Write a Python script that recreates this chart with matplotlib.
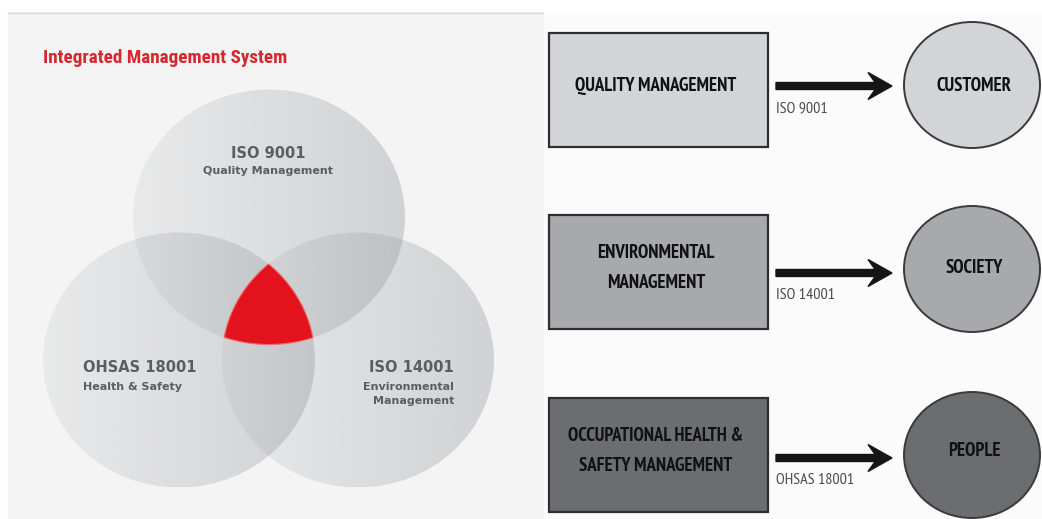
import numpy as np
import matplotlib
matplotlib.use("Agg")
import matplotlib.pyplot as plt
from matplotlib.patches import Ellipse, Rectangle, Polygon

# --- data -------------------------------------------------------------
title = "Integrated Management System"
venn_codes = ["ISO 9001", "OHSAS 18001", "ISO 14001"]
venn_names = ["Quality Management", "Health & Safety", "Environmental\nManagement"]

systems = ["QUALITY MANAGEMENT", "ENVIRONMENTAL\nMANAGEMENT",
           "OCCUPATIONAL HEALTH &\nSAFETY MANAGEMENT"]
standards = ["ISO 9001", "ISO 14001", "OHSAS 18001"]
stakeholders = ["CUSTOMER", "SOCIETY", "PEOPLE"]
shades = ["#d2d4d7", "#a8a9ac", "#6c6d70"]

NARROW = ["PT Sans Narrow", "Roboto Condensed", "DejaVu Sans"]
COND = ["Roboto Condensed", "Archivo Narrow", "DejaVu Sans"]

W, H = 1042, 519
fig = plt.figure(figsize=(W / 100, H / 100), dpi=100)
ax = fig.add_axes([0, 0, 1, 1])
ax.set_xlim(0, W)
ax.set_ylim(H, 0)
ax.axis("off")

# --- left panel: venn -------------------------------------------------
ax.add_patch(Rectangle((8, 12), 535, 507, color="#f4f4f4", zorder=0))
ax.plot([8, 543], [12.5, 12.5], color="#d8d8d8", lw=1, zorder=1)

rx, ry = 136, 127.5
centers = [(269, 217), (179, 360), (358, 360)]

for cx, cy in centers:
    ell = Ellipse((cx, cy), 2 * rx, 2 * ry, facecolor="none", edgecolor="none")
    ax.add_patch(ell)
    grad = np.zeros((2, 256, 4))
    grad[..., :3] = np.array([150, 154, 160]) / 255
    grad[..., 3] = np.linspace(0.12, 0.38, 256)
    im = ax.imshow(grad, extent=(cx - rx, cx + rx, cy + ry, cy - ry),
                   aspect="auto", interpolation="bilinear", zorder=2)
    im.set_clip_path(ell)

# red triple intersection
t = np.linspace(0, 2 * np.pi, 1440)
pts = []
for cx, cy in centers:
    xs = cx + rx * np.cos(t)
    ys = cy + ry * np.sin(t)
    inside = np.ones_like(xs, dtype=bool)
    for ox, oy in centers:
        if (ox, oy) == (cx, cy):
            continue
        inside &= ((xs - ox) / rx) ** 2 + ((ys - oy) / ry) ** 2 <= 1.0001
    pts.append(np.column_stack([xs[inside], ys[inside]]))
pts = np.vstack(pts)
c0 = pts.mean(axis=0)
order = np.argsort(np.arctan2(pts[:, 1] - c0[1], pts[:, 0] - c0[0]))
ax.add_patch(Polygon(pts[order], closed=True, facecolor="#e3121c",
                     edgecolor="#ef6a6e", lw=0.8, zorder=3))

ax.text(43, 58, title, color="#d7262c", fontsize=13.8, fontweight="bold",
        family=COND, va="center", ha="left", zorder=4)

gray = "#5b5d61"
ax.text(268, 153, venn_codes[0], color=gray, fontsize=10.5, fontweight="bold",
        ha="center", va="center", zorder=4)
ax.text(268, 171, venn_names[0], color=gray, fontsize=8, fontweight="bold",
        ha="center", va="center", zorder=4)
ax.text(83, 368, venn_codes[1], color=gray, fontsize=10.5, fontweight="bold",
        ha="left", va="center", zorder=4)
ax.text(83, 387, venn_names[1], color=gray, fontsize=8, fontweight="bold",
        ha="left", va="center", zorder=4)
ax.text(454, 368, venn_codes[2], color=gray, fontsize=10.5, fontweight="bold",
        ha="right", va="center", zorder=4)
ax.text(454, 394, venn_names[2], color=gray, fontsize=8, fontweight="bold",
        ha="right", va="center", linespacing=1.4, zorder=4)

# --- right panel: flows ----------------------------------------------
ax.add_patch(Rectangle((545, 14), 497, 505, color="#fbfbfb", zorder=0))

box_top = [33, 215, 398]
arrow_y = [86, 273, 458]
ell_y = [85, 269, 455]
text_y = [86, 268, 451]

for i in range(3):
    ax.add_patch(Rectangle((549, box_top[i]), 219, 114, facecolor=shades[i],
                           edgecolor="#2e2e2e", lw=1.6, zorder=2))
    ax.text(656, box_top[i] + 53, systems[i], fontsize=13.5, fontweight="bold",
            family=NARROW, color="#111111", ha="center", va="center",
            linespacing=1.85, zorder=4)
    ax.arrow(776, arrow_y[i], 116, 0, width=7, head_width=27, head_length=24,
             overhang=0.3, length_includes_head=True, color="#151515", zorder=3)
    ax.text(776, arrow_y[i] + 22, standards[i], fontsize=11.5, family=NARROW,
            color="#4a4a4a", ha="left", va="center", zorder=4)
    ax.add_patch(Ellipse((972, ell_y[i]), 136, 126, facecolor=shades[i],
                         edgecolor="#3a3a3a", lw=1.4, zorder=2))
    ax.text(974, text_y[i], stakeholders[i], fontsize=13.5, fontweight="bold",
            family=NARROW, color="#111111", ha="center", va="center", zorder=4)

fig.savefig("out.png", dpi=100)
